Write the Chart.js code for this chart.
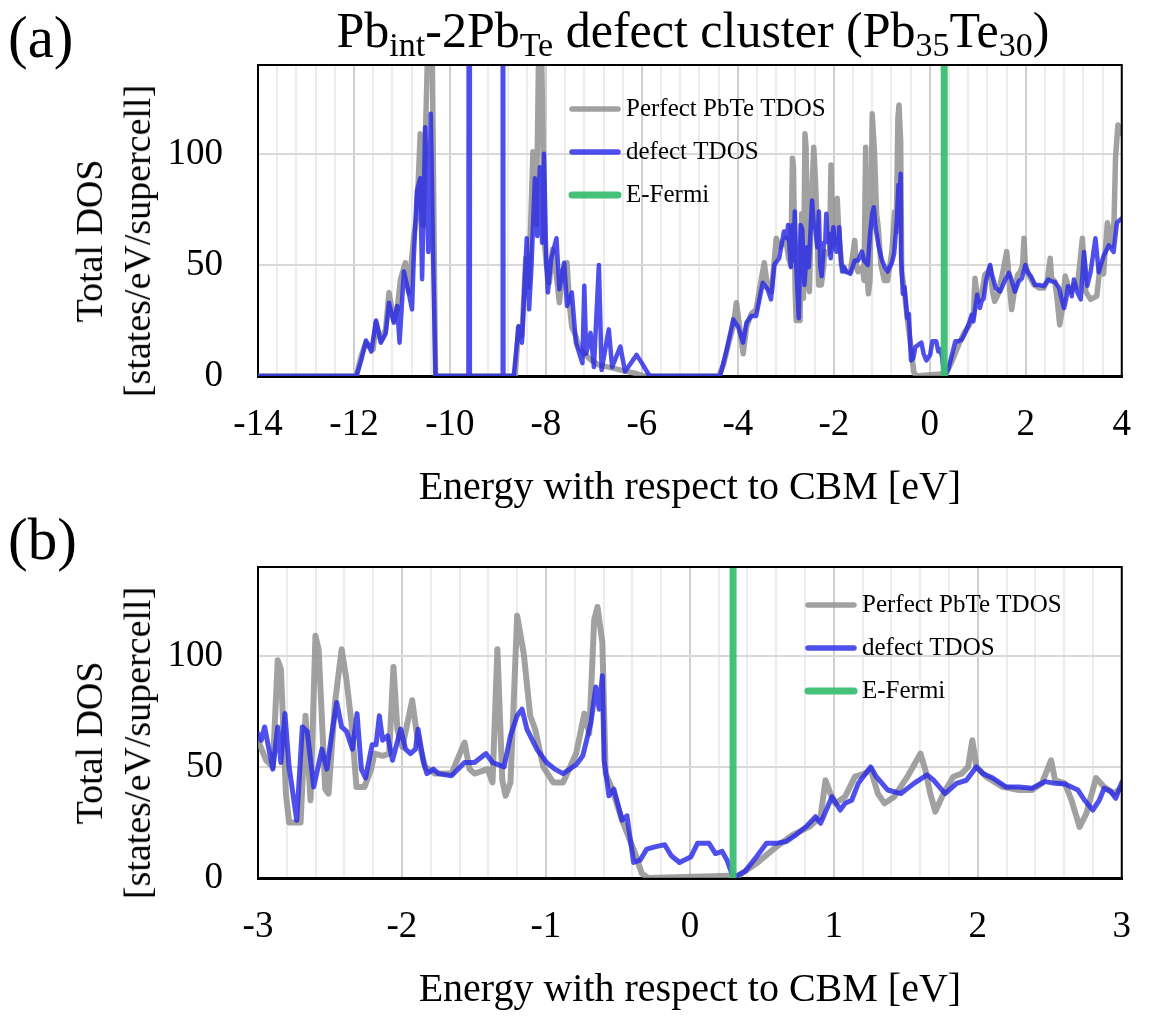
<!DOCTYPE html>
<html>
<head>
<meta charset="utf-8">
<title>Pb_int-2Pb_Te defect cluster TDOS</title>
<script src="https://cdn.jsdelivr.net/npm/chart.js@4.4.1/dist/chart.umd.min.js"></script>
<style>
  body { margin: 0; background: #fff; }
  #page { position: relative; width: 1158px; height: 1017px; overflow: hidden; font-family: "Liberation Serif", serif; color: #000; }
  .panel { position: absolute; left: 0; width: 1158px; }
  #panelA { top: 0; height: 520px; }
  #panelB { top: 502px; height: 515px; }
  .tag { position: absolute; left: 8px; font-size: 59px; line-height: 1; }
  #title { position: absolute; left: 693px; top: 5px; transform: translateX(-50%); white-space: nowrap; font-size: 50px; line-height: 1; }
  #title sub { font-size: 68%; vertical-align: baseline; position: relative; top: 0.25em; }
  .ytitle { position: absolute; transform: translate(-50%, -50%) rotate(-90deg); white-space: nowrap; text-align: center; font-size: 38px; line-height: 48px; }
</style>
</head>
<body>
<div id="page">
  <div class="panel" id="panelA"><canvas id="chartA"></canvas></div>
  <div class="panel" id="panelB"><canvas id="chartB"></canvas></div>
  <div class="tag" style="top:8px">(a)</div>
  <div class="tag" style="top:510px">(b)</div>
  <div id="title">Pb<sub>int</sub>-2Pb<sub>Te</sub> defect cluster (Pb<sub>35</sub>Te<sub>30</sub>)</div>
  <div class="ytitle" style="left:113px; top:241px">Total DOS<br>[states/eV/supercell]</div>
  <div class="ytitle" style="left:113px; top:743px">Total DOS<br>[states/eV/supercell]</div>
</div>
<script>
// energies in eV relative to CBM, DOS in states/eV/supercell
const perfectEnergy = [
  -14, -11.95, -11.85, -11.75, -11.6, -11.54, -11.44, -11.34, -11.27, -11.17, -11.1, -11.03,
  -10.93, -10.86, -10.755, -10.69, -10.62, -10.56, -10.48, -10.44, -10.4, -10.37, -10.33, -10.3,
  -8.64, -8.57, -8.5, -8.42, -8.36, -8.27, -8.2, -8.15, -8.11, -8.07, -8.04, -7.99, -7.93, -7.86,
  -7.78, -7.72, -7.64, -7.56, -7.5, -7.46, -7.38, -7.31, -7.2, -7.05, -6.9, -6.7, -6.5, -6.3, -6.1, -5.96,
  -4.4, -4.3, -4.2, -4.1, -4.03, -3.95, -3.89, -3.82, -3.72, -3.62, -3.5, -3.45, -3.38, -3.3, -3.2, -3.12, -3.05,
  -3.0, -2.943, -2.897, -2.863, -2.841, -2.806, -2.784, -2.704, -2.67, -2.635, -2.601, -2.579, -2.533, -2.51,
  -2.465, -2.419, -2.385, -2.351, -2.316, -2.26, -2.214, -2.191, -2.134, -2.089, -2.059, -2.032, -1.997,
  -1.929, -1.895, -1.838, -1.77, -1.656, -1.565, -1.53, -1.496, -1.405, -1.371, -1.337, -1.303, -1.28,
  -1.246, -1.2, -1.154, -1.109, -1.075, -1.018, -0.949, -0.881, -0.79, -0.733, -0.699, -0.665, -0.642,
  -0.608, -0.585, -0.539, -0.471, -0.38, -0.334, -0.289, 0.28, 0.315, 0.463, 0.6, 0.714, 0.828, 0.908,
  0.942, 0.976, 1.01, 1.078, 1.147, 1.215, 1.256, 1.306, 1.352, 1.42, 1.511, 1.602, 1.636, 1.67, 1.705,
  1.762, 1.83, 1.887, 1.933, 1.962, 1.99, 2.058, 2.172, 2.286, 2.377, 2.445, 2.509, 2.537, 2.605, 2.651,
  2.707, 2.754, 2.821, 2.878, 2.947, 3.003, 3.076, 3.18, 3.25, 3.35, 3.48, 3.55, 3.62, 3.7, 3.79, 3.84,
  3.87, 3.92, 3.96, 4.0
];
const perfectDos = [
  0, 0, 9, 15, 12, 24, 16, 21, 37.6, 25, 30, 43.6,
  51, 37.6, 63, 72, 109, 68, 134, 170, 180, 150, 60, 0,
  0, 22, 18, 53, 40, 101, 68, 150, 170, 120, 62, 50, 42, 57,
  45, 33, 48, 51, 30, 22, 18, 13, 10, 7, 5, 4, 3, 2, 1, 0,
  0, 5, 14, 22, 33, 20, 10, 22, 28, 30, 45, 51, 40, 38, 62, 58, 60,
  62, 53, 50, 98, 94, 38, 25, 25, 73, 35, 109, 103, 40, 38,
  79, 103, 89, 70, 41, 41, 49, 56, 55, 56, 95, 67, 59,
  80, 64, 50, 47, 47, 61, 49, 47, 49, 43, 103, 44, 37,
  43, 118, 101, 73, 67, 50, 43, 43, 56, 74, 65, 116, 122,
  106, 47, 40, 26, 11, 2, 0, 1, 0, 6.6, 14, 19.4, 23, 27.6,
  44, 38, 33.6, 36.6, 45.6, 47, 49, 38, 33.6, 36.6, 45.6, 56, 48.6, 38, 29.9,
  38, 45.6, 47, 50, 62, 50, 45.6, 41, 39.6, 39.6, 42.6, 53, 44, 42.6, 35,
  23, 29, 45, 41, 38, 41, 40, 62, 38, 34.5, 36, 50, 46, 69, 58.8, 70,
  98, 113, 112, 109
];

const defectEnergy = [
  -14, -11.95, -11.85, -11.75, -11.64, -11.54, -11.44, -11.34, -11.27, -11.17, -11.1, -11.05,
  -10.96, -10.86, -10.79, -10.755, -10.69, -10.62, -10.58, -10.516, -10.45, -10.4, -10.35, -10.3,
  -9.615, -9.6, -9.585, -8.915, -8.9, -8.885,
  -8.67, -8.57, -8.5, -8.4, -8.35, -8.3, -8.23, -8.18, -8.125, -8.08, -8.04, -7.99, -7.96, -7.89,
  -7.78, -7.72, -7.62, -7.56, -7.46, -7.375, -7.24, -7.2, -7.16, -7.07, -7.0, -6.896, -6.84, -6.69,
  -6.62, -6.45, -6.35, -6.11, -6.0, -5.84,
  -4.37, -4.232, -4.096, -3.993, -3.891, -3.82, -3.72, -3.62, -3.48, -3.38, -3.31, -3.24, -3.14, -3.04,
  -3.0, -2.977, -2.954, -2.897, -2.863, -2.841, -2.813, -2.784, -2.731, -2.692, -2.658, -2.613, -2.556,
  -2.522, -2.487, -2.453, -2.419, -2.385, -2.344, -2.312, -2.282, -2.253, -2.207, -2.18, -2.157, -2.134,
  -2.1, -2.066, -2.009, -1.975, -1.941, -1.906, -1.888, -1.85, -1.827, -1.781, -1.747, -1.656, -1.565,
  -1.496, -1.416, -1.371, -1.291, -1.246, -1.2, -1.166, -1.132, -1.063, -0.995, -0.938, -0.881, -0.79,
  -0.744, -0.687, -0.653, -0.63, -0.608, -0.596, -0.562, -0.528, -0.471, -0.437, -0.391, -0.346, -0.3,
  -0.243, -0.175, -0.129, -0.072, 0.008, 0.053, 0.133, 0.178, 0.224, 0.258, 0.292, 0.315, 0.383, 0.463,
  0.532, 0.6, 0.668, 0.737, 0.805, 0.873, 0.908, 0.953, 0.987, 1.044, 1.078, 1.124, 1.17, 1.204, 1.256,
  1.295, 1.375, 1.466, 1.557, 1.648, 1.694, 1.773, 1.853, 1.921, 1.99, 2.035, 2.104, 2.195, 2.286, 2.377,
  2.468, 2.537, 2.605, 2.696, 2.742, 2.799, 2.844, 2.878, 2.924, 2.958, 3.003, 3.076, 3.145, 3.213, 3.281,
  3.35, 3.452, 3.52, 3.62, 3.73, 3.83, 3.9, 4.0
];
const defectDos = [
  0, 0, 7, 16, 11, 25, 15, 19, 33, 24, 31.5, 15,
  47, 37.6, 30, 52.7, 83, 89, 43.6, 112, 55.8, 118, 52.7, 0,
  0, 500, 0, 0, 500, 0,
  0, 22.4, 15, 62, 30, 50, 89, 63, 94, 60, 100, 50, 37.6, 52.7,
  62, 39, 51, 31.5, 37.6, 15, 5.8, 40.6, 10, 19.4, 4, 50, 2.7, 21,
  4, 13.3, 2, 9.5, 5.8, 0,
  0, 11.8, 25.5, 22, 15, 24, 27, 27, 42, 39, 34.5, 50, 53, 65,
  65, 62, 68, 49, 68, 52, 74, 50, 26, 68, 66, 41, 58,
  49, 65, 79, 68, 66, 58, 74, 49, 45, 60, 60, 73, 62,
  64, 53, 67, 58, 56, 58, 67, 52, 47, 49, 47, 46, 52,
  52, 56, 52, 50, 64, 73, 76, 67, 58, 52, 49, 47, 51,
  55, 70, 86, 76, 91, 53, 37, 40, 26, 28, 7, 8, 13,
  14, 15, 10, 7, 9.6, 15.6, 15.6, 11, 12, 8, 2, 0.6, 3, 9.6,
  15.6, 15.6, 16.4, 19.4, 23, 27.6, 24.6, 31.4, 36.6, 30.6, 33.6, 35, 42.6, 45.6, 50,
  45.6, 39.6, 38, 42.6, 46.4, 44, 38, 42.6, 44, 50, 47, 45, 41, 41, 40.4,
  43.4, 42.6, 42.3, 39.6, 35, 30.6, 35, 40.4, 38.9, 35.9, 43.4, 37.6, 34.5, 55.8, 40.6,
  46.7, 62, 46.7, 54, 58.8, 55.8, 69, 71
];

const fermiEnergy = 0.3;
const yTickValues = [0, 50, 100];
const xTickLabelsA = [-14, -12, -10, -8, -6, -4, -2, 0, 2, 4];
const xTickLabelsB = [-3, -2, -1, 0, 1, 2, 3];

const serif = '"Liberation Serif", "Times New Roman", serif';

function toPoints(xs, ys) {
  return xs.map((x, i) => ({ x: x, y: ys[i] }));
}

function gridTicks(min, max, step) {
  const out = [];
  for (let v = min; v <= max + 1e-9; v += step) out.push({ value: Math.round(v * 1000) / 1000 });
  return out;
}

// legend drawn inside the plot area
const innerLegend = {
  id: 'innerLegend',
  afterDraw(chart, args, opts) {
    const { ctx, chartArea } = chart;
    ctx.save();
    ctx.font = '25px ' + serif;
    ctx.textBaseline = 'middle';
    ctx.lineCap = 'round';
    chart.data.datasets.forEach((ds, i) => {
      const x = chartArea.left + opts.left;
      const y = chartArea.top + opts.top + i * opts.gap;
      ctx.strokeStyle = ds.borderColor;
      ctx.lineWidth = ds.legendWidth;
      ctx.beginPath();
      ctx.moveTo(x, y);
      ctx.lineTo(x + 46, y);
      ctx.stroke();
      ctx.fillStyle = '#000';
      ctx.fillText(ds.label, x + 54, y);
    });
    ctx.restore();
  }
};

// top and right edges of the frame
const frame = {
  id: 'frame',
  afterDraw(chart) {
    const { ctx, chartArea } = chart;
    ctx.save();
    ctx.strokeStyle = '#000';
    ctx.lineWidth = 2;
    ctx.beginPath();
    ctx.moveTo(chartArea.left, chartArea.top);
    ctx.lineTo(chartArea.right, chartArea.top);
    ctx.lineTo(chartArea.right, chartArea.bottom);
    ctx.stroke();
    ctx.restore();
  }
};

function makeChart(id, xMin, xMax, minorStep, majorLabels, xScaleHeight, titlePad, lineW, legendPos) {
  const isMajor = v => majorLabels.includes(v);
  return new Chart(document.getElementById(id), {
    type: 'line',
    data: {
      datasets: [
        {
          label: 'Perfect PbTe TDOS',
          data: toPoints(perfectEnergy, perfectDos),
          borderColor: 'rgba(145,145,145,0.85)',
          borderWidth: lineW + 1,
          legendWidth: 5.5,
          order: 3
        },
        {
          label: 'defect TDOS',
          data: toPoints(defectEnergy, defectDos),
          borderColor: 'rgba(40,40,232,0.82)',
          borderWidth: lineW,
          legendWidth: 5.5,
          order: 2
        },
        {
          label: 'E-Fermi',
          data: [{ x: fermiEnergy, y: 0 }, { x: fermiEnergy, y: 140 }],
          borderColor: 'rgba(60,190,115,0.95)',
          borderWidth: 7,
          legendWidth: 7,
          order: 1
        }
      ]
    },
    options: {
      responsive: true,
      maintainAspectRatio: false,
      animation: false,
      layout: { padding: { top: 65, right: 18, left: 0, bottom: 0 } },
      elements: {
        point: { radius: 0 },
        line: { tension: 0, borderJoinStyle: 'round', borderCapStyle: 'round' }
      },
      plugins: {
        legend: { display: false },
        tooltip: { enabled: false },
        innerLegend: legendPos
      },
      scales: {
        x: {
          type: 'linear',
          min: xMin,
          max: xMax,
          afterBuildTicks: s => { s.ticks = gridTicks(xMin, xMax, minorStep); },
          afterFit: s => { s.height = xScaleHeight; },
          ticks: {
            autoSkip: false,
            maxRotation: 0,
            padding: 27,
            color: '#000',
            font: { family: serif, size: 37 },
            callback: v => isMajor(v) ? String(v) : ''
          },
          grid: {
            drawTicks: false,
            lineWidth: 2,
            color: c => isMajor(c.tick.value) ? '#cfcfcf' : '#ececec'
          },
          border: { color: '#000', width: 3 },
          title: {
            display: true,
            text: 'Energy with respect to CBM [eV]',
            color: '#000',
            font: { family: serif, size: 40 },
            padding: { top: 0, bottom: titlePad }
          }
        },
        y: {
          min: 0,
          max: 140,
          afterBuildTicks: s => { s.ticks = yTickValues.map(v => ({ value: v })); },
          afterFit: s => { s.width = 258; },
          ticks: {
            padding: 35,
            color: '#000',
            font: { family: serif, size: 37 }
          },
          grid: {
            drawTicks: false,
            lineWidth: 2,
            color: c => c.tick.value === 0 ? 'rgba(0,0,0,0)' : '#d9d9d9'
          },
          border: { color: '#000', width: 2 }
        }
      }
    },
    plugins: [innerLegend, frame]
  });
}

makeChart('chartA', -14, 4, 0.4, xTickLabelsA, 144, 8, 4.5, { left: 314, top: 44, gap: 43 });
makeChart('chartB', -3, 3, 0.2, xTickLabelsB, 139, 3, 5, { left: 550, top: 38, gap: 43 });
</script>
</body>
</html>
